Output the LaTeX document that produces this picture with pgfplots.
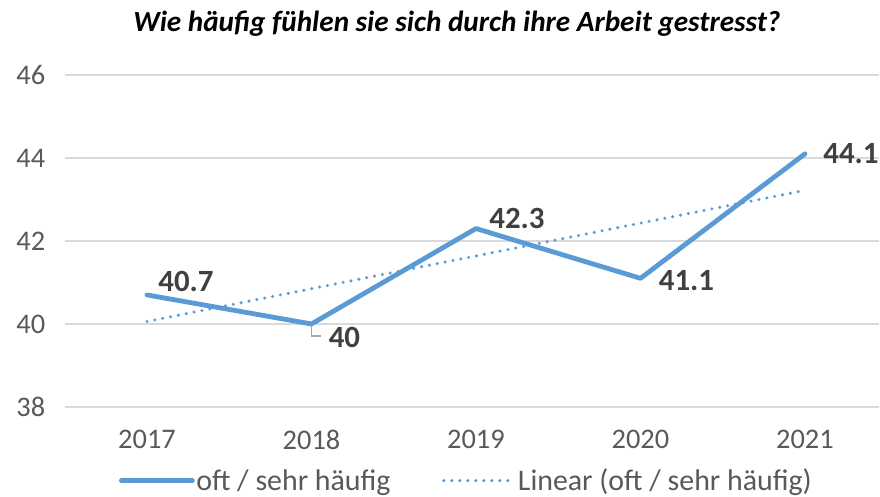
\documentclass[border=0pt]{standalone}
\usepackage{fontspec}
\setmainfont{Carlito}
\usepackage{pgfplots}
\pgfplotsset{compat=1.18}
\usetikzlibrary{calc}
\definecolor{lineblue}{HTML}{5B9BD5}
\definecolor{gridgray}{HTML}{D9D9D9}
\definecolor{ticktext}{HTML}{595959}
\definecolor{labeltext}{HTML}{404040}
\definecolor{leadergray}{HTML}{A6A6A6}
\begin{document}
\begin{tikzpicture}
\begin{axis}[
  name=ax,
  x=164.5bp, y=41.5bp,
  xmin=-0.5, xmax=4.45, ymin=38, ymax=46,
  enlargelimits=false,
  axis line style={draw=none},
  ymajorgrids,
  grid style={gridgray, line width=1.3bp},
  xtick={0,1,2,3,4},
  xticklabels={2017,2018,2019,2020,2021},
  ytick={38,40,42,44,46},
  major tick length=0pt,
  tick style={draw=none},
  /pgf/number format/assume math mode=true,
  ticklabel style={font=\fontsize{28.5}{32}\selectfont, text=ticktext},
  yticklabel style={xshift=-16bp},
  xticklabel style={yshift=-20bp},
  clip=false,
  legend columns=2,
  legend style={draw=none, fill=none, at={(0.493,-0.222)}, anchor=center,
    font=\fontsize{30}{34}\selectfont, text=ticktext,
    /tikz/every even column/.append style={column sep=50bp},
    nodes={inner sep=1.5bp}},
  legend image code/.code={\draw[#1] (0bp,0bp) -- (71bp,0bp);},
]
\addplot[lineblue, line width=4.8bp, line join=round, line cap=round] coordinates {
 (0,40.7) (1,40.0) (2,42.3) (3,41.1) (4,44.1)};
\addlegendentry{oft / sehr häufig}
\addplot[lineblue, line width=3.4bp, line cap=round, dash pattern=on 0bp off 8bp] coordinates {
 (0,40.06) (4,43.22)};
\addlegendentry{Linear (oft / sehr häufig)}

\draw[leadergray, line width=1.2bp] ([yshift=-2bp]axis cs:1,40) -- ([yshift=-12bp]axis cs:1,40) -- ([xshift=10bp,yshift=-12bp]axis cs:1,40);

\begin{scope}[every node/.style={font=\fontsize{31}{34}\selectfont\bfseries, text=labeltext, inner sep=0pt}]
\node at ([xshift=39bp,yshift=13bp]axis cs:0,40.7) {40.7};
\node at ([xshift=33bp,yshift=-13bp]axis cs:1,40.0) {40};
\node at ([xshift=41bp,yshift=10bp]axis cs:2,42.3) {42.3};
\node at ([xshift=46bp,yshift=-2bp]axis cs:3,41.1) {41.1};
\node at ([xshift=46bp,yshift=0bp]axis cs:4,44.1) {44.1};
\end{scope}
\end{axis}
\node[anchor=base, font=\fontsize{29.3}{32}\selectfont\bfseries\itshape, inner sep=0pt] at ($(ax.north)+(-15bp,43bp)$) {Wie häufig fühlen sie sich durch ihre Arbeit gestresst?};
\pgfresetboundingbox
\path[use as bounding box] ($(ax.south west)+(-64.75bp,-90bp)$) rectangle ($(ax.north east)+(1bp,75bp)$);
\end{tikzpicture}
\end{document}
